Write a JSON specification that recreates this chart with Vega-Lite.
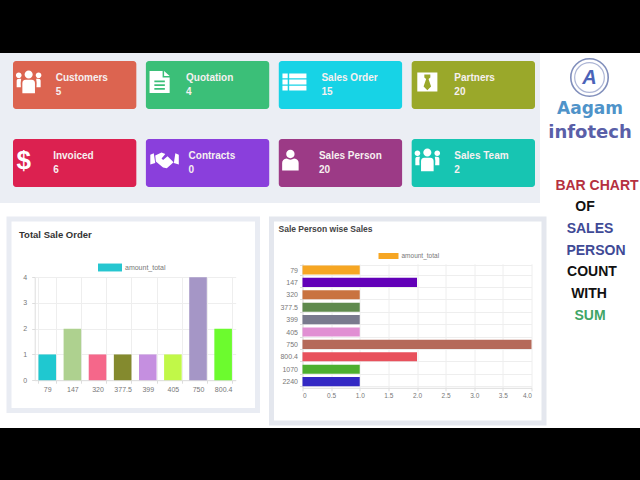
{
"$schema":"https://vega.github.io/schema/vega-lite/v6.json",
"padding":0,"background":"#ffffff","spacing":0,
"config":{"font":"Liberation Sans","view":{"stroke":null},"concat":{"spacing":0}},
"datasets":{
 "order":[{"amount":"79","count":1},{"amount":"147","count":2},{"amount":"320","count":1},{"amount":"377.5","count":1},{"amount":"399","count":1},{"amount":"405","count":1},{"amount":"750","count":4},{"amount":"800.4","count":2}],
 "person":[{"amount":"79","count":1},{"amount":"147","count":2},{"amount":"320","count":1},{"amount":"377.5","count":1},{"amount":"399","count":1},{"amount":"405","count":1},{"amount":"750","count":4},{"amount":"800.4","count":2},{"amount":"1070","count":1},{"amount":"2240","count":1}]
},
"vconcat":[
{"data":{"values":[]},"mark":"rule","encoding":{},"width":640,"height":53,"view":{"fill":"#000000","stroke":null}},
{"spacing":0,"hconcat":[
 {"spacing":0,"vconcat":[
  {"spacing":0,"hconcat":[
   {"width":540,"height":150,"view":{"fill":"#ebeef4","stroke":null},
    "data":{"values":[
     {"name":"Customers","count":5,"row":"1","column":"1","icon":"people"},
     {"name":"Quotation","count":4,"row":"1","column":"2","icon":"doc"},
     {"name":"Sales Order","count":15,"row":"1","column":"3","icon":"list"},
     {"name":"Partners","count":20,"row":"1","column":"4","icon":"tie"},
     {"name":"Invoiced","count":6,"row":"2","column":"1","icon":"dollar"},
     {"name":"Contracts","count":0,"row":"2","column":"2","icon":"hands"},
     {"name":"Sales Person","count":20,"row":"2","column":"3","icon":"person"},
     {"name":"Sales Team","count":2,"row":"2","column":"4","icon":"team"}]},
    "encoding":{
     "x":{"field":"column","type":"nominal","axis":null,"scale":{"domain":["1","2","3","4"],"range":[13,535],"paddingInner":0.072,"paddingOuter":0}},
     "y":{"field":"row","type":"nominal","axis":null,"scale":{"domain":["1","2"],"range":[8,134],"paddingInner":0.385,"paddingOuter":0}}},
    "layer":[
     {"mark":{"type":"rect","cornerRadius":3},
      "encoding":{"color":{"field":"name","type":"nominal","legend":null,"scale":{
       "domain":["Customers","Quotation","Sales Order","Partners","Invoiced","Contracts","Sales Person","Sales Team"],
       "range":["#dc6450","#3bbf78","#17d3e6","#9aa82a","#dc2150","#8a3fdc","#9c3a86","#17c5b2"]}}}},
     {"transform":[{"filter":"indexof(['dollar','doc','person'], datum.icon) < 0"}],"mark":{"type":"text","align":"left","dx":-19,"dy":-7,"fontSize":10,"fontWeight":"bold","color":"#f6f0f0"},"encoding":{"text":{"field":"name"}}},
     {"transform":[{"filter":"indexof(['dollar','doc','person'], datum.icon) < 0"}],"mark":{"type":"text","align":"left","dx":-19,"dy":7,"fontSize":10,"fontWeight":"bold","color":"#f6f0f0"},"encoding":{"text":{"field":"count"}}},
     {"transform":[{"filter":"indexof(['dollar','doc','person'], datum.icon) >= 0"}],"mark":{"type":"text","align":"left","dx":-21.5,"dy":-7,"fontSize":10,"fontWeight":"bold","color":"#f6f0f0"},"encoding":{"text":{"field":"name"}}},
     {"transform":[{"filter":"indexof(['dollar','doc','person'], datum.icon) >= 0"}],"mark":{"type":"text","align":"left","dx":-21.5,"dy":7,"fontSize":10,"fontWeight":"bold","color":"#f6f0f0"},"encoding":{"text":{"field":"count"}}},
     {"transform":[{"filter":"datum.icon !== 'dollar'"}],
      "mark":{"type":"point","filled":true,"opacity":1,"size":900,"color":"#ffffff","xOffset":-46,"yOffset":-3},
      "encoding":{"shape":{"field":"icon","type":"nominal","legend":null,"scale":{
       "domain":["people","doc","list","tie","hands","person","team"],
       "range":[
        "M-.27,-.5a.27,.27 0 1,0 .54,0a.27,.27 0 1,0 -.54,0Z M-.85,-.45a.19,.19 0 1,0 .38,0a.19,.19 0 1,0 -.38,0Z M.47,-.45a.19,.19 0 1,0 .38,0a.19,.19 0 1,0 -.38,0Z M-.42,.75V.1Q-.42,-.15 -.2,-.15H.2Q.42,-.15 .42,.1V.75Z M-.8,.35V-.1Q-.8,-.22 -.65,-.22H-.5Q-.55,0 -.52,.35Z M.8,.35V-.1Q.8,-.22 .65,-.22H.5Q.55,0 .52,.35Z",
        "M-.8,-.73H.07V-.3H.54V.73H-.8Z M-.48,-.1V.02H.22V-.1Z M-.48,.15V.27H.22V.15Z M-.48,.4V.52H.22V.4Z M.17,-.73L.54,-.4H.17Z",
        "M-.8,-.57H-.45V-.25H-.8Z M-.35,-.57H.8V-.25H-.35Z M-.8,-.16H-.45V.16H-.8Z M-.35,-.16H.8V.16H-.35Z M-.8,.25H-.45V.57H-.8Z M-.35,.25H.8V.57H-.35Z",
        "M-.67,-.63H.67V.63H-.67Z M-.2,-.5V-.3L-.08,-.2L-.25,.3L0,.55L.25,.3L.08,-.2L.2,-.3V-.5Z",
        "M-.75,-.35L-.52,-.45L-.42,.2L-.75,.3Z M1.15,-.35L.92,-.45L.82,.2L1.15,.3Z M-.42,-.3L0,-.5L.25,-.4L0,-.1L.1,0L.4,-.25L.8,.15L.35,.55L.1,.5L-.38,.1Z",
        "M-.55,-.4a.28,.28 0 1,0 .56,0a.28,.28 0 1,0 -.56,0Z M-.82,.7V.2Q-.82,-.05 -.52,-.1Q-.27,.05 -.02,-.1Q.28,-.05 .28,.2V.7Z",
        "M-.27,-.5a.27,.27 0 1,0 .54,0a.27,.27 0 1,0 -.54,0Z M-.85,-.45a.19,.19 0 1,0 .38,0a.19,.19 0 1,0 -.38,0Z M.47,-.45a.19,.19 0 1,0 .38,0a.19,.19 0 1,0 -.38,0Z M-.42,.75V.1Q-.42,-.15 -.2,-.15H.2Q.42,-.15 .42,.1V.75Z M-.8,.35V-.1Q-.8,-.22 -.65,-.22H-.5Q-.55,0 -.52,.35Z M.8,.35V-.1Q.8,-.22 .65,-.22H.5Q.55,0 .52,.35Z"
       ]}}}},
     {"transform":[{"filter":"datum.icon === 'dollar'"}],"mark":{"type":"text","text":"$","fontSize":26,"fontWeight":"bold","color":"#ffffff","dx":-51,"dy":-2}}
    ]},
   {"data":{"values":[]},"mark":"rule","encoding":{},"width":7,"height":150,"view":{"fill":"#ffffff","stroke":null}}
  ]},
  {"data":{"values":[]},"mark":"rule","encoding":{},"width":547,"height":9,"view":{"fill":"#ffffff","stroke":null}},
  {"spacing":0,"hconcat":[
   {"data":{"values":[]},"mark":"rule","encoding":{},"width":6,"height":209,"view":{"fill":"#ffffff","stroke":null}},
   {"spacing":8.5,"hconcat":[
    {"width":248.5,"height":191.5,"view":{"fill":"#ffffff","stroke":"#e9ecf3","strokeWidth":5},
     "title":{"text":"Total Sale Order","anchor":"start","frame":"group","offset":-20,"dx":10,"fontSize":9.5,"fontWeight":"bold","color":"#333333"},
     "resolve":{"scale":{"color":"independent"},"axis":{"x":"independent","y":"independent"}},
     "layer":[
      {"data":{"name":"order"},"mark":{"type":"bar","opacity":0},
       "encoding":{
        "x":{"field":"amount","type":"nominal","sort":null,"scale":{"range":[25.7,226.7],"paddingInner":0.3,"paddingOuter":0.15},
         "axis":{"orient":"top","title":null,"labels":false,"ticks":false,"domain":false,"labelAngle":0,"bandPosition":0,"tickBand":"extent","grid":true,"gridColor":"#eeeeee"}},
        "y":{"field":"count","type":"quantitative","scale":{"domain":[0,4],"nice":false,"range":[161.2,58.2]},
         "axis":{"orient":"left","title":null,"labels":false,"ticks":false,"domain":false,"values":[0,1,2,3,4],"grid":true,"gridColor":"#eeeeee"}}}},
      {"data":{"name":"order"},"mark":"bar",
       "encoding":{
        "x":{"field":"amount","type":"nominal","sort":null,"scale":{"range":[25.7,226.7],"paddingInner":0.3,"paddingOuter":0.15},
         "axis":{"orient":"bottom","title":null,"labelAngle":0,"offset":-30.3,"bandPosition":0,"tickBand":"extent","grid":false,"domainColor":"#dddddd","tickColor":"#dddddd","tickSize":3,"labelColor":"#777777","labelFontSize":7,"labelPadding":2}},
        "y":{"field":"count","type":"quantitative","scale":{"domain":[0,4],"nice":false,"range":[161.2,58.2]},
         "axis":{"orient":"left","title":null,"values":[0,1,2,3,4],"format":"d","offset":-25.7,"grid":false,"domainColor":"#dddddd","tickColor":"#dddddd","tickSize":3,"labelColor":"#777777","labelFontSize":7,"labelPadding":5}},
        "color":{"field":"amount","type":"nominal","sort":null,"legend":null,"scale":{"range":["#1fc8d0","#aed18f","#f5678a","#848a2e","#c58fe0","#c1f848","#a596c6","#6cfb2e"]}}}},
      {"data":{"values":[{"series":"amount_total"}]},
       "mark":{"type":"point","filled":true,"opacity":0},
       "encoding":{"color":{"field":"series","type":"nominal","scale":{"range":["#26c6d0"]},
        "legend":{"title":null,"orient":"none","legendX":88,"legendY":35.5,"padding":0,"symbolType":"M-1,-.33H1V.33H-1Z","symbolSize":576,"symbolOpacity":1,"labelFontSize":7,"labelColor":"#777777","labelOffset":2}}}}
     ]},
    {"width":272.5,"height":204,"view":{"fill":"#ffffff","stroke":"#e4e7ee","strokeWidth":5},
     "title":{"text":"Sale Person wise Sales","anchor":"start","frame":"group","offset":-18,"dx":7,"fontSize":8.5,"fontWeight":"bold","color":"#444444"},
     "resolve":{"scale":{"color":"independent"},"axis":{"x":"independent","y":"independent"}},
     "layer":[
      {"data":{"name":"person"},"mark":{"type":"bar","opacity":0},
       "encoding":{
        "y":{"field":"amount","type":"nominal","sort":null,"scale":{"range":[44.8,168.8],"paddingInner":0.27,"paddingOuter":0.135},
         "axis":{"orient":"left","title":null,"labels":false,"ticks":false,"domain":false,"bandPosition":0,"tickBand":"extent","grid":true,"gridColor":"#eeeeee"}},
        "x":{"field":"count","type":"quantitative","scale":{"domain":[0,4],"nice":false,"range":[31,260]},
         "axis":{"orient":"top","title":null,"labels":false,"ticks":false,"domain":false,"values":[0,0.5,1,1.5,2,2.5,3,3.5,4],"grid":true,"gridColor":"#eeeeee"}}}},
      {"data":{"name":"person"},"mark":"bar",
       "encoding":{
        "y":{"field":"amount","type":"nominal","sort":null,"scale":{"range":[44.8,168.8],"paddingInner":0.27,"paddingOuter":0.135},
         "axis":{"orient":"left","title":null,"offset":-31,"bandPosition":0,"tickBand":"extent","grid":false,"domainColor":"#dddddd","tickColor":"#dddddd","tickSize":3,"labelColor":"#777777","labelFontSize":7,"labelPadding":2}},
        "x":{"field":"count","type":"quantitative","scale":{"domain":[0,4],"nice":false,"range":[31,260]},
         "axis":{"orient":"bottom","title":null,"values":[0,0.5,1,1.5,2,2.5,3,3.5,4],"labelExpr":"datum.value === 0 ? '0' : format(datum.value,'.1f')","offset":-35.2,"grid":false,"domainColor":"#dddddd","tickColor":"#dddddd","tickSize":3,"labelColor":"#777777","labelFontSize":6.5,"labelPadding":2}},
        "color":{"field":"amount","type":"nominal","sort":null,"legend":null,"scale":{"range":["#f6a623","#6200b8","#c97340","#5f8a4d","#797a8e","#e18fd3","#b56a5a","#e8515c","#4daf2f","#3328c4"]}}}},
      {"data":{"values":[{"series":"amount_total"}]},
       "mark":{"type":"point","filled":true,"opacity":0},
       "encoding":{"color":{"field":"series","type":"nominal","scale":{"range":["#f6a623"]},
        "legend":{"title":null,"orient":"none","legendX":106,"legendY":26,"padding":0,"symbolType":"M-1,-.3H1V.3H-1Z","symbolSize":400,"symbolOpacity":1,"labelFontSize":6.5,"labelColor":"#777777","labelOffset":2}}}}
     ]}
   ]}
  ]}
 ]},
 {"width":93,"height":375,"view":{"fill":"#ffffff","stroke":null},
  "encoding":{"y":{"field":"line","type":"nominal","axis":null,"scale":{"type":"point","domain":["0","1","2","3","4","5","6","7","8","9","10","11","12","13","14","15","16","17","18","19","20","21","22","23","24","25","26","27","28","29","30","31","32","33"],"range":[24.5,262.5],"padding":0}}},
  "layer":[
   {"data":{"values":[{"line":"0"}]},"mark":{"type":"point","size":1400,"filled":false,"stroke":"#4b5f9f","strokeWidth":1.6,"xOffset":-4}},
   {"data":{"values":[{"line":"0"}]},"mark":{"type":"point","size":880,"filled":false,"stroke":"#8a97c4","strokeWidth":1.2,"xOffset":-4}},
   {"data":{"values":[{"line":"0","text":"A"}]},"mark":{"type":"text","dx":-4,"fontSize":20,"fontStyle":"italic","fontWeight":"bold","color":"#4a63b8"},"encoding":{"text":{"field":"text"}}},
   {"data":{"values":[{"line":"4","text":"Aagam"}]},"mark":{"type":"text","dx":-3.5,"dy":2.4,"font":"DejaVu Sans","fontSize":17,"fontWeight":"bold","color":"#4f93c9"},"encoding":{"text":{"field":"text"}}},
   {"data":{"values":[{"line":"8","text":"infotech"}]},"mark":{"type":"text","dx":-3.5,"dy":-2.5,"font":"DejaVu Sans","fontSize":18,"fontWeight":"bold","color":"#5a5fa8"},"encoding":{"text":{"field":"text"}}},
   {"data":{"values":[{"line":"15","text":"BAR CHART"}]},"mark":{"type":"text","dx":3.5,"fontSize":14,"fontWeight":"bold","color":"#b5303f"},"encoding":{"text":{"field":"text"}}},
   {"data":{"values":[{"line":"18","text":"OF"}]},"mark":{"type":"text","dx":-8.5,"fontSize":14,"fontWeight":"bold","color":"#111111"},"encoding":{"text":{"field":"text"}}},
   {"data":{"values":[{"line":"21","text":"SALES"}]},"mark":{"type":"text","dx":-3.5,"fontSize":14,"fontWeight":"bold","color":"#3f4a96"},"encoding":{"text":{"field":"text"}}},
   {"data":{"values":[{"line":"24","text":"PERSON"}]},"mark":{"type":"text","dx":2.5,"fontSize":14,"fontWeight":"bold","color":"#3f4a96"},"encoding":{"text":{"field":"text"}}},
   {"data":{"values":[{"line":"27","text":"COUNT"}]},"mark":{"type":"text","dx":-1.5,"fontSize":14,"fontWeight":"bold","color":"#111111"},"encoding":{"text":{"field":"text"}}},
   {"data":{"values":[{"line":"30","text":"WITH"}]},"mark":{"type":"text","dx":-4.5,"fontSize":14,"fontWeight":"bold","color":"#111111"},"encoding":{"text":{"field":"text"}}},
   {"data":{"values":[{"line":"33","text":"SUM"}]},"mark":{"type":"text","dx":-3.5,"fontSize":14,"fontWeight":"bold","color":"#3fa566"},"encoding":{"text":{"field":"text"}}}
  ]}
]},
{"data":{"values":[]},"mark":"rule","encoding":{},"width":640,"height":52,"view":{"fill":"#000000","stroke":null}}
]}
